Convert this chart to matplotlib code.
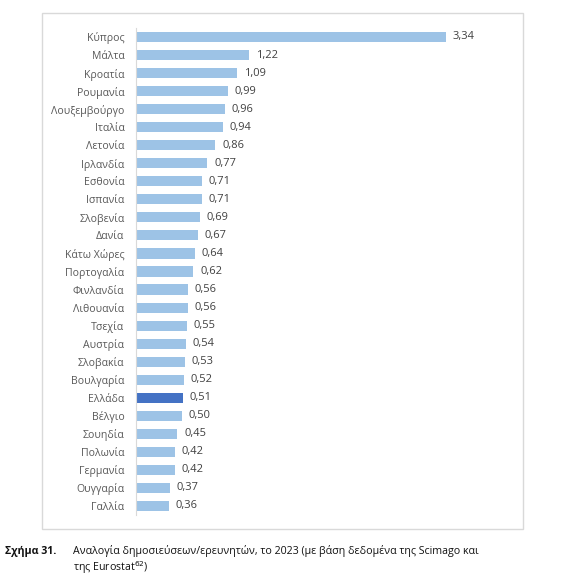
import matplotlib
matplotlib.use("Agg")
import matplotlib.pyplot as plt
from matplotlib.patches import Rectangle

countries = ["Κύπρος", "Μάλτα", "Κροατία", "Ρουμανία", "Λουξεμβούργο", "Ιταλία",
             "Λετονία", "Ιρλανδία", "Εσθονία", "Ισπανία", "Σλοβενία", "Δανία",
             "Κάτω Χώρες", "Πορτογαλία", "Φινλανδία", "Λιθουανία", "Τσεχία",
             "Αυστρία", "Σλοβακία", "Βουλγαρία", "Ελλάδα", "Βέλγιο", "Σουηδία",
             "Πολωνία", "Γερμανία", "Ουγγαρία", "Γαλλία"]
values = [3.34, 1.22, 1.09, 0.99, 0.96, 0.94, 0.86, 0.77, 0.71, 0.71, 0.69, 0.67,
          0.64, 0.62, 0.56, 0.56, 0.55, 0.54, 0.53, 0.52, 0.51, 0.50, 0.45,
          0.42, 0.42, 0.37, 0.36]
highlight = "Ελλάδα"

plt.rcParams["font.family"] = ["Open Sans", "DejaVu Sans"]

W, H = 566, 587
fig = plt.figure(figsize=(W / 100, H / 100), dpi=100)

# frame around the chart
fig.patches.append(Rectangle((42 / W, 1 - 529 / H), (523 - 42) / W, (529 - 13) / H,
                             transform=fig.transFigure, fill=False,
                             edgecolor="#d9d9d9", lw=1.0))

n = len(countries)
top_c, bot_c = 37, 506
step = (bot_c - top_c) / (n - 1)
ax_top = top_c - 0.5 * step
ax_bot = bot_c + 0.5 * step
x0, x1 = 135.5, 500
ax = fig.add_axes([x0 / W, 1 - ax_bot / H, (x1 - x0) / W, (ax_bot - ax_top) / H])

colors = ["#4472c4" if c == highlight else "#9dc3e6" for c in countries]
ypos = list(range(n))
ax.barh(ypos, values, height=0.56, color=colors)
scale = (446 - x0) / 3.34
ax.set_xlim(0, (x1 - x0) / scale)
ax.set_ylim(n - 0.5, -0.5)

for y, v in zip(ypos, values):
    ax.text(v + 7 / scale, y, f"{v:.2f}".replace(".", ","), va="center", ha="left",
            fontsize=8, color="#404040")

ax.set_yticks(ypos)
ax.set_yticklabels(countries, fontsize=7.6, color="#595959")
ax.tick_params(axis="y", length=0, pad=8)
ax.set_xticks([])
for s in ("top", "right", "bottom"):
    ax.spines[s].set_visible(False)
ax.spines["left"].set_color("#d9d9d9")

fig.text(5 / W, 1 - 551 / H, "Σχήμα 31.", fontsize=7.7, fontweight="bold",
         va="center", ha="left", color="#111111")
fig.text(73 / W, 1 - 551 / H,
         "Αναλογία δημοσιεύσεων/ερευνητών, το 2023 (με βάση δεδομένα της Scimago και",
         fontsize=7.7, va="center", ha="left", color="#111111")
fig.text(73 / W, 1 - 568 / H, "της Eurostat$^{62}$)", fontsize=7.7, va="center",
         ha="left", color="#111111")

fig.savefig("out.png", dpi=100)
